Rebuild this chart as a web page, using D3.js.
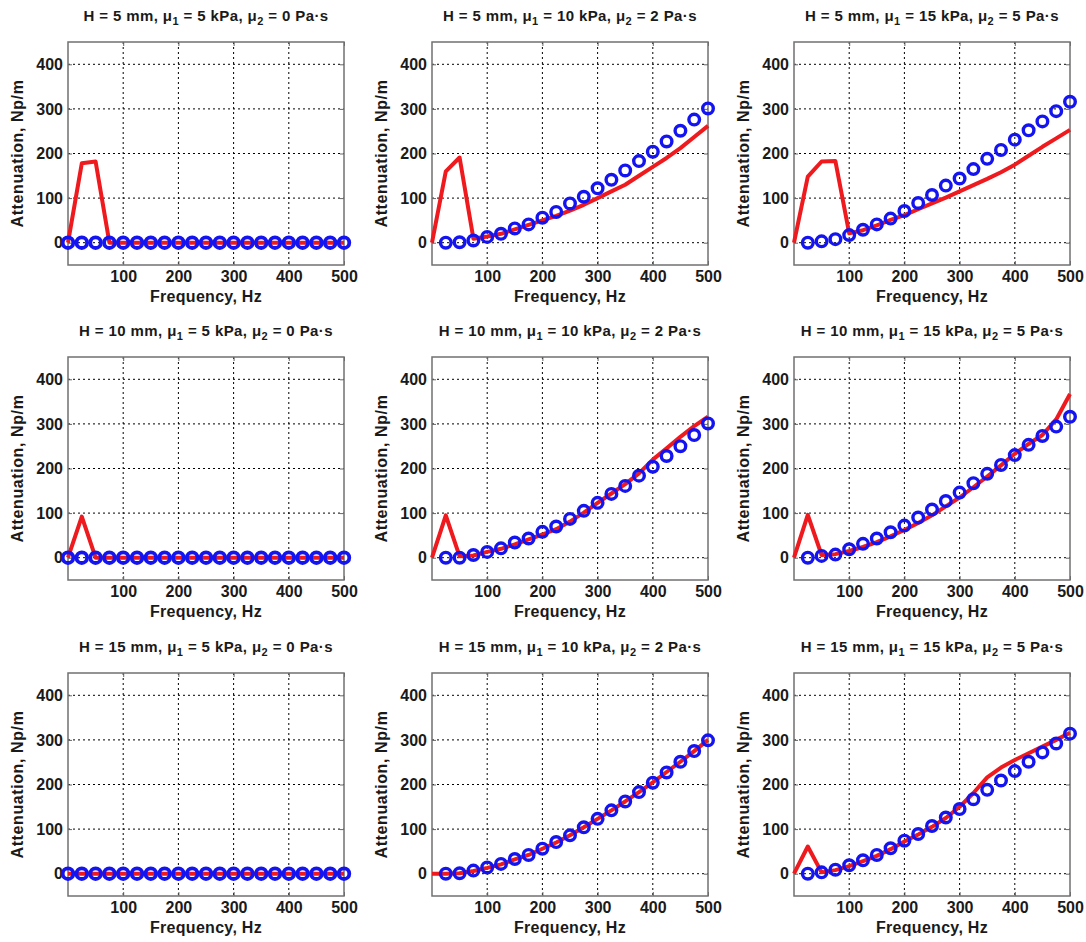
<!DOCTYPE html>
<html><head><meta charset="utf-8">
<script src="https://cdn.jsdelivr.net/npm/d3@7/dist/d3.min.js"></script>
<style>
body{margin:0;background:#fff}
text{font-family:"Liberation Sans",Arial,Helvetica,sans-serif;font-weight:bold;fill:#1a1a1a}
</style>
</head><body><svg id="c" width="1086" height="942"></svg>
<script>
// ---- data ----
const freq = [0,25,50,75,100,125,150,175,200,225,250,275,300,325,350,375,400,425,450,475,500];
const markFreqFull = [0,25,50,75,100,125,150,175,200,225,250,275,300,325,350,375,400,425,450,475,500];
const markFreqPart = [25,50,75,100,125,150,175,200,225,250,275,300,325,350,375,400,425,450,475,500];
const thicknessH = [5,10,15];
const mu1 = [5,10,15];
const mu2 = [0,2,5];
const xTicks = [100,200,300,400,500];
const yTicks = [0,100,200,300,400];

// model curves (red line), rows = H, cols = material
const modelH5 = [
  [0,178,182,0,0,0,0,0,0,0,0,0,0,0,0,0,0,0,0,0,0],
  [0,160,191,9,14,20,30,40,50,60,72,85,100,115,130,150,170,190,212,237,262],
  [0,148,182,183,21,28,39,51,62,75,88,101,115,129,143,158,175,195,215,234,253]
];
const modelH10 = [
  [0,92,0,0,0,0,0,0,0,0,0,0,0,0,0,0,0,0,0,0,0],
  [0,95,3,5,13,20,30,41,52,64,81,101,123,144,165,189,220,245,271,295,316],
  [0,96,6,8,15,24,35,48,62,78,95,115,135,158,182,207,233,255,275,310,367]
];
const modelH15 = [
  [0,0,0,0,0,0,0,0,0,0,0,0,0,0,0,0,0,0,0,0,0],
  [0,0,1,6,13,21,32,42,56,70,86,104,123,142,162,183,205,228,251,275,300],
  [0,61,3,8,17,28,40,55,72,88,105,125,150,181,216,238,255,270,285,300,316]
];
// measured values (blue circles)
const measH5 = [
  [0,0,0,0,0,0,0,0,0,0,0,0,0,0,0,0,0,0,0,0,0],
  [0,1,5,13,20,32,41,56,69,88,103,122,141,162,183,204,227,251,276,301],
  [0,3,8,17,29,41,54,71,89,107,128,144,165,188,208,231,252,272,295,316]
];
const measH10 = [
  [0,0,0,0,0,0,0,0,0,0,0,0,0,0,0,0,0,0,0,0,0],
  [0,0,6,13,21,34,43,58,70,87,105,123,143,161,184,204,228,250,275,301],
  [0,4,7,19,31,43,57,72,90,108,127,146,167,188,208,230,253,273,294,316]
];
const measH15 = [
  [0,0,0,0,0,0,0,0,0,0,0,0,0,0,0,0,0,0,0,0,0],
  [0,1,7,14,22,33,42,56,71,86,104,123,142,162,183,204,227,251,275,299],
  [0,3,9,19,30,42,57,74,89,107,126,145,167,188,209,230,251,272,292,314]
];
const models = [modelH5, modelH10, modelH15];
const measured = [measH5, measH10, measH15];

// ---- layout ----
const colLeft = [68, 432, 794];
const rowTop = [42, 357, 673];
const W = 276, H = 223;

const svg = d3.select("#c");
const x = d3.scaleLinear().domain([0,500]).range([0,W]);
const y = d3.scaleLinear().domain([-50,450]).range([H,0]);
const line = d3.line().x((d,i)=>x(freq[i])).y(d=>y(d));

for (let r=0; r<3; r++) {
  for (let c=0; c<3; c++) {
    const g = svg.append("g").attr("transform",`translate(${colLeft[c]},${rowTop[r]})`);
    // grid
    g.selectAll(".gx").data(xTicks.filter(v=>v<500)).enter().append("line")
      .attr("x1",d=>x(d)).attr("x2",d=>x(d)).attr("y1",0).attr("y2",H)
      .attr("stroke","#000").attr("stroke-width",1).attr("stroke-dasharray","2,3");
    g.selectAll(".gy").data(yTicks).enter().append("line")
      .attr("y1",d=>y(d)).attr("y2",d=>y(d)).attr("x1",0).attr("x2",W)
      .attr("stroke","#000").attr("stroke-width",1).attr("stroke-dasharray","2,3");
    // axes
    const ax = g.append("g").attr("transform",`translate(0,${H})`)
      .call(d3.axisBottom(x).tickValues(xTicks).tickSize(-4).tickPadding(6));
    const ay = g.append("g")
      .call(d3.axisLeft(y).tickValues(yTicks).tickSize(-4).tickPadding(5));
    const at = g.append("g")
      .call(d3.axisTop(x).tickValues(xTicks).tickSize(-4).tickFormat(""));
    const ar = g.append("g").attr("transform",`translate(${W},0)`)
      .call(d3.axisRight(y).tickValues(yTicks).tickSize(-4).tickFormat(""));
    [ax,ay,at,ar].forEach(a=>{
      a.select(".domain").remove();
      a.selectAll(".tick line").attr("stroke","#666").attr("stroke-width",1);
      a.selectAll("text").style("font-size","16px").attr("fill","#1a1a1a")
        .style("font-family",'"Liberation Sans",Arial,sans-serif').style("font-weight","bold");
    });
    // border
    g.append("rect").attr("x",0).attr("y",0).attr("width",W).attr("height",H)
      .attr("fill","none").attr("stroke","#707070").attr("stroke-width",1.5);
    // model line
    g.append("path").datum(models[r][c]).attr("d",line)
      .attr("fill","none").attr("stroke","#ee1a1e").attr("stroke-width",4)
      .attr("stroke-linejoin","round");
    // measured markers
    const mf = c===0 ? markFreqFull : markFreqPart;
    g.selectAll(".m").data(measured[r][c]).enter().append("circle")
      .attr("cx",(d,i)=>x(mf[i])).attr("cy",d=>y(d)).attr("r",5.3)
      .attr("fill","none").attr("stroke","#1414f0").attr("stroke-width",c===0?3.8:3.4);
    // title
    const t = g.append("text").attr("x",W/2).attr("y",-21).attr("text-anchor","middle")
      .style("font-size","15px").style("letter-spacing","0.4px");
    t.append("tspan").text(`H = ${thicknessH[r]} mm, \u03bc`);
    t.append("tspan").attr("dy",4).style("font-size","11px").text("1");
    t.append("tspan").attr("dy",-4).text(` = ${mu1[c]} kPa, \u03bc`);
    t.append("tspan").attr("dy",4).style("font-size","11px").text("2");
    t.append("tspan").attr("dy",-4).text(` = ${mu2[c]} Pa\u00b7s`);
    // axis labels
    g.append("text").attr("x",W/2).attr("y",H+37).attr("text-anchor","middle")
      .style("font-size","16px").style("letter-spacing","0.3px").text("Frequency, Hz");
    g.append("text").attr("transform",`translate(-45,${H/2}) rotate(-90)`)
      .attr("text-anchor","middle").style("font-size","16px").style("letter-spacing","0.6px")
      .text("Attenuation, Np/m");
  }
}
</script></body></html>
